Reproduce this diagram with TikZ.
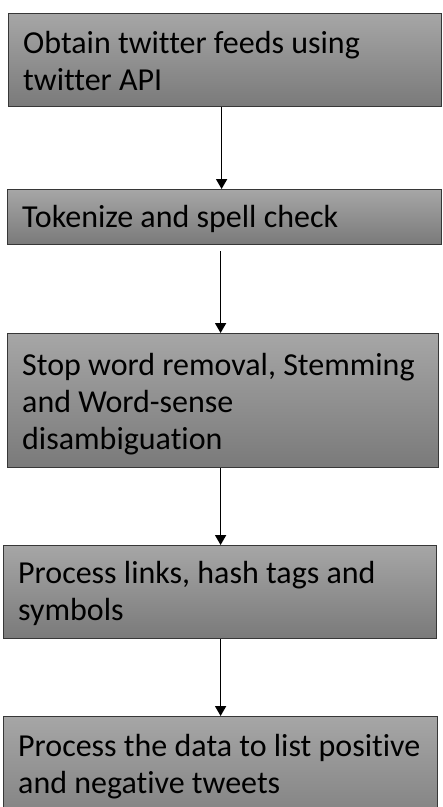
\documentclass[tikz,border=0pt]{standalone}
\usepackage{fontspec}
\setmainfont[Ligatures={NoCommon}]{Carlito}
\usetikzlibrary{arrows.meta}
\definecolor{boxtop}{RGB}{166,166,166}
\definecolor{boxbot}{RGB}{122,122,122}
\definecolor{boxline}{RGB}{55,55,55}
\tikzset{
  stepbox/.style={draw=boxline, line width=1.2pt, top color=boxtop, bottom color=boxbot, rectangle, inner sep=0pt},
  steptext/.style={anchor=base west, inner sep=0pt, font=\fontsize{32}{37}\selectfont, text=black},
  flow/.style={line width=1.7pt, black, -{Triangle[width=11pt,length=10pt]}}
}
\begin{document}
\begin{tikzpicture}[x=1pt,y=1pt]
\path[use as bounding box, clip] (0,0) rectangle (443,-807);
\fill[white] (0,0) rectangle (443,-807);
\node[stepbox, minimum width=433pt, minimum height=93pt, anchor=north west] (b1) at (8,-13) {};
\node[stepbox, minimum width=434pt, minimum height=55pt, anchor=north west] (b2) at (7,-189) {};
\node[stepbox, minimum width=431pt, minimum height=134pt, anchor=north west] (b3) at (7,-333) {};
\node[stepbox, minimum width=433pt, minimum height=93pt, anchor=north west] (b4) at (3,-545) {};
\node[stepbox, minimum width=434pt, minimum height=125pt, anchor=north west] (b5) at (3,-716) {};
\node[steptext] (t1) at (23,-53) {\begin{tabular}[t]{@{}l@{}}Obtain twitter feeds using\\twitter API\end{tabular}};
\node[steptext] (t2) at (22,-227) {Tokenize and spell check};
\node[steptext] (t3) at (22,-375) {\begin{tabular}[t]{@{}l@{}}Stop word removal, Stemming\\and Word-sense\\disambiguation\end{tabular}};
\node[steptext] (t4) at (18,-583) {\begin{tabular}[t]{@{}l@{}}Process links, hash tags and\\symbols\end{tabular}};
\node[steptext] (t5) at (18,-756) {\begin{tabular}[t]{@{}l@{}}Process the data to list positive\\and negative tweets\end{tabular}};
\draw[flow] ([xshift=-3.5pt]b1.south) -- ([xshift=-3pt]b2.north);
\draw[flow, shorten <=6pt] ([xshift=-4pt]b2.south) -- ([xshift=-2.5pt]b3.north);
\draw[flow] ([xshift=-2.5pt]b3.south) -- ([xshift=0.5pt]b4.north);
\draw[flow] ([xshift=0.5pt]b4.south) -- (b5.north);
\end{tikzpicture}
\end{document}
